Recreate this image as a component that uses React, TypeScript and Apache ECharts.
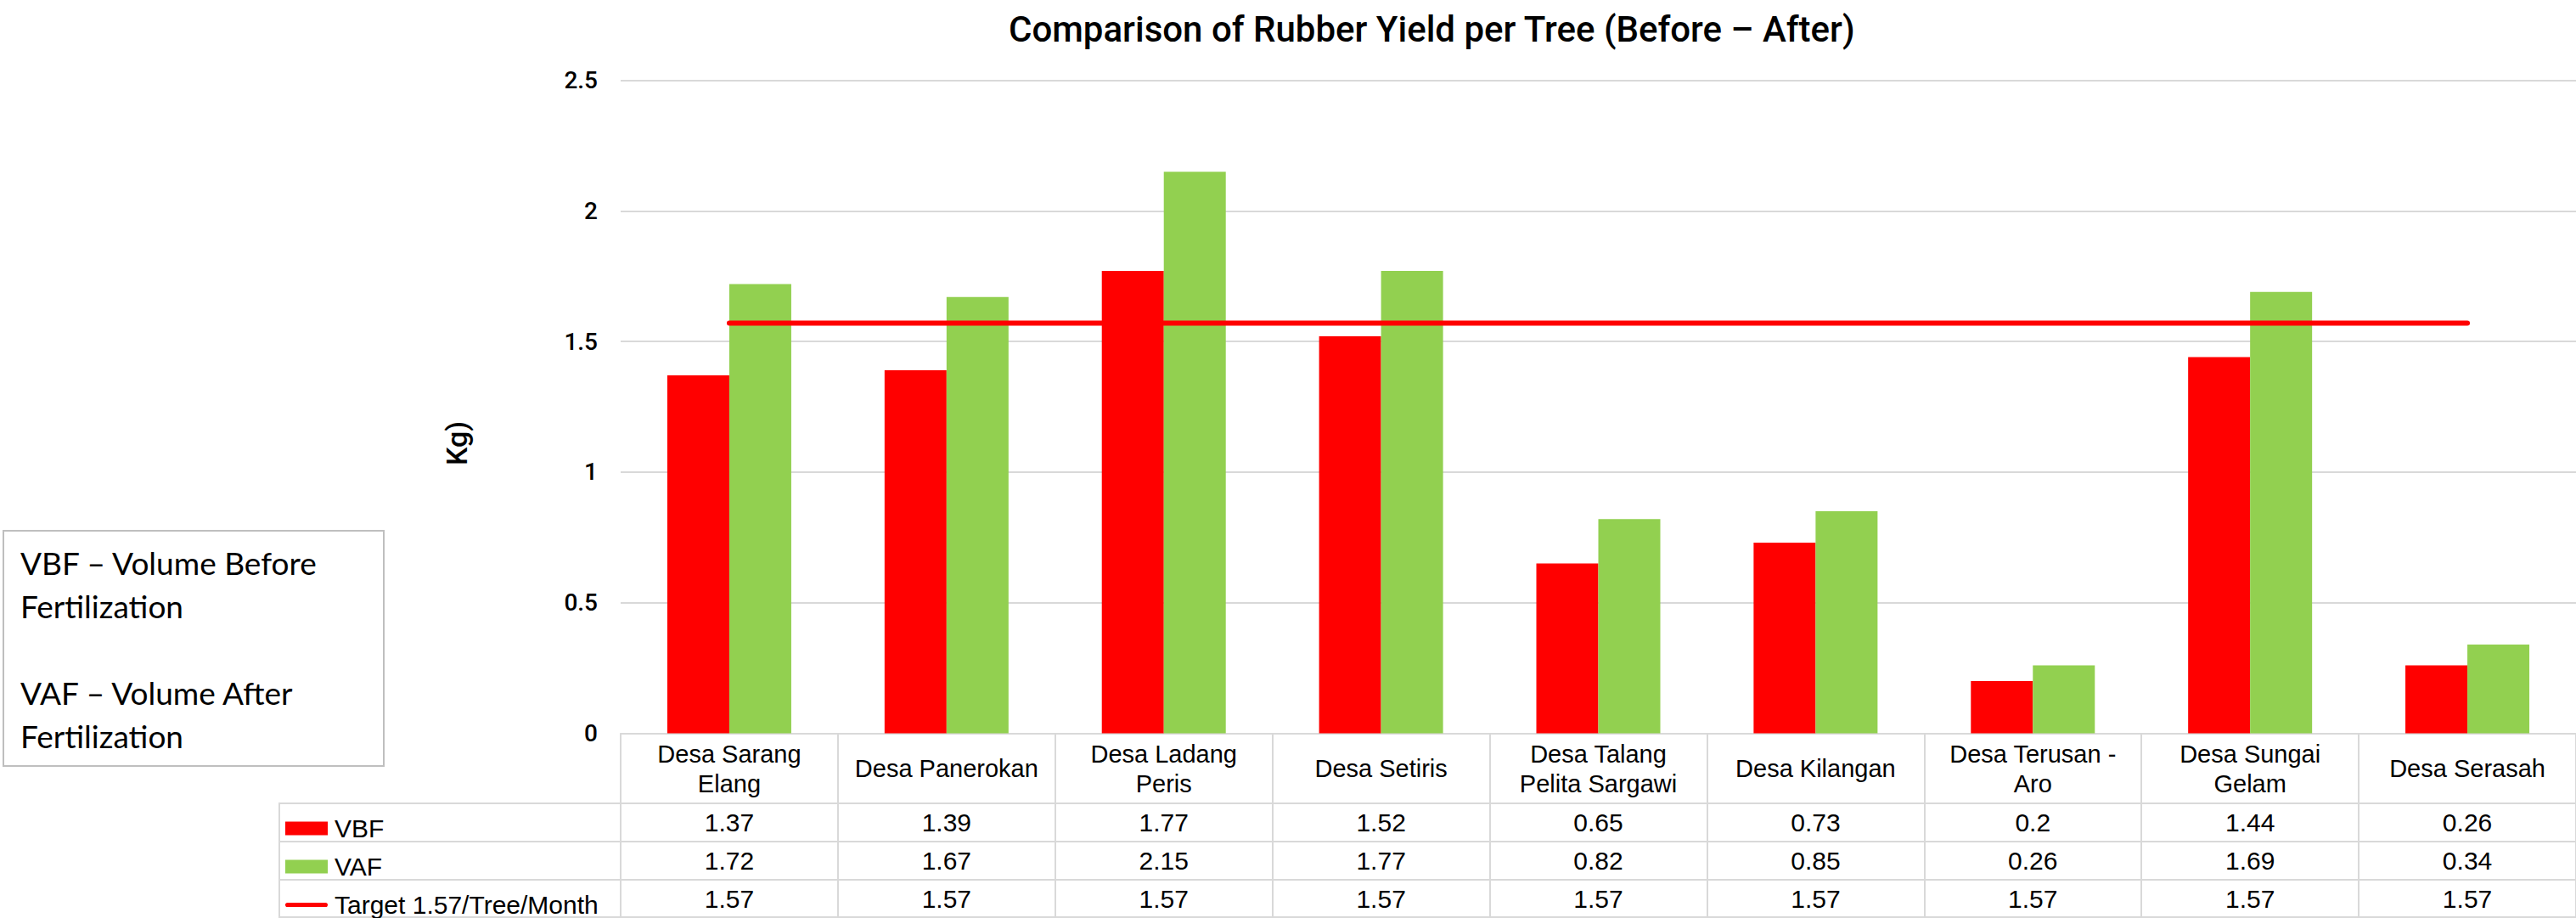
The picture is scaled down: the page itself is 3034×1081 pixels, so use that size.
import React, { useEffect, useRef } from "react";
import * as echarts from "echarts";

const categories = [
  "Desa Sarang\nElang",
  "Desa Panerokan",
  "Desa Ladang\nPeris",
  "Desa Setiris",
  "Desa Talang\nPelita Sargawi",
  "Desa Kilangan",
  "Desa Terusan -\nAro",
  "Desa Sungai\nGelam",
  "Desa Serasah",
];
const vbf = [1.37, 1.39, 1.77, 1.52, 0.65, 0.73, 0.2, 1.44, 0.26];
const vaf = [1.72, 1.67, 2.15, 1.77, 0.82, 0.85, 0.26, 1.69, 0.34];
const target = [1.57, 1.57, 1.57, 1.57, 1.57, 1.57, 1.57, 1.57, 1.57];
const seriesNames = ["VBF", "VAF", "Target 1.57/Tree/Month"];
const yMin = 0;
const yMax = 2.5;
const yStep = 0.5;
const titleText = "Comparison of Rubber Yield per Tree (Before – After)";
const yName = "Kg)";
const noteText = "VBF – Volume Before\nFertilization\n\nVAF – Volume After\nFertilization";

const RED = "#FF0000";
const GREEN = "#92D050";
const GRID = "#D9D9D9";
const TABLE_FONT = "Liberation Sans";
const TABLE_SIZE = 30;

export default function App() {
  const ref = useRef<HTMLDivElement>(null);
  useEffect(() => {
    if (!ref.current) return;
    const chart = echarts.init(ref.current, null, { renderer: "svg" });
    const gridLeft = 731;
    const gridTop = 94.5;
    const gridHeight = 769;
    const axisY = gridTop + gridHeight;
    const rowCenters = [968.5, 1013.5, 1058.5];
    const valueLabel = (arr: number[], margin: number) => ({
      type: "category",
      data: categories,
      position: "bottom",
      axisLine: { show: false },
      axisTick: { show: false },
      splitLine: { show: false },
      axisLabel: {
        interval: 0,
        margin,
        verticalAlign: "middle",
        fontSize: TABLE_SIZE,
        fontFamily: TABLE_FONT,
        color: "#000",
        formatter: (_v: string, i: number) => String(arr[i]),
      },
    });
    const legendBase = (name: string, cy: number, icon: string) => ({
      data: [{ name, icon }],
      left: 336,
      top: cy - 8,
      padding: 0,
      itemWidth: 50,
      itemHeight: 16,
      selectedMode: false,
      symbolKeepAspect: true,
      textStyle: { fontSize: TABLE_SIZE, fontFamily: TABLE_FONT, color: "#000", padding: [0, 0, 0, 3] },
    });
    const hLine = (x1: number, y: number, x2: number) => ({
      type: "line",
      shape: { x1, y1: y, x2, y2: y },
      style: { stroke: GRID, lineWidth: 2 },
      silent: true,
    });
    chart.setOption({
      animation: false,
      backgroundColor: "#fff",
      title: {
        text: titleText,
        left: 1183,
        top: 8,
        textStyle: { fontFamily: "Roboto", fontWeight: 500, fontSize: 42, color: "#000" },
      },
      grid: { left: gridLeft, top: gridTop, width: 2304, height: gridHeight, containLabel: false },
      legend: [
        legendBase(seriesNames[0], rowCenters[0], "rect"),
        legendBase(seriesNames[1], rowCenters[1], "rect"),
        legendBase(seriesNames[2], rowCenters[2], "path://M2,0 L98,0 A2,2 0 0 1 98,11 L2,11 A2,2 0 0 1 2,0 Z"),
      ],
      xAxis: [
        {
          type: "category",
          data: categories,
          position: "bottom",
          axisLine: { show: true, lineStyle: { color: GRID, width: 2 } },
          axisTick: { show: true, length: 218, lineStyle: { color: GRID, width: 2 } },
          axisLabel: {
            interval: 0,
            margin: 41.5,
            verticalAlign: "middle",
            fontSize: TABLE_SIZE - 1,
            lineHeight: 35,
            fontFamily: TABLE_FONT,
            color: "#000",
          },
        },
        valueLabel(vbf, rowCenters[0] - axisY),
        valueLabel(vaf, rowCenters[1] - axisY),
        valueLabel(target, rowCenters[2] - axisY),
      ],
      yAxis: {
        type: "value",
        min: yMin,
        max: yMax,
        interval: yStep,
        axisLine: { show: false },
        axisTick: { show: false },
        splitLine: { lineStyle: { color: GRID, width: 2 } },
        axisLabel: { fontSize: 28, fontWeight: 500, fontFamily: "Roboto", color: "#000", margin: 27 },
      },
      series: [
        {
          name: seriesNames[0],
          type: "bar",
          data: vbf,
          barWidth: 73,
          barGap: "0%",
          itemStyle: { color: RED },
        },
        {
          name: seriesNames[1],
          type: "bar",
          data: vaf,
          barWidth: 73,
          barGap: "0%",
          itemStyle: { color: GREEN },
        },
        {
          name: seriesNames[2],
          type: "line",
          data: target,
          symbol: "none",
          itemStyle: { color: RED },
          lineStyle: { color: RED, width: 6, cap: "round" },
          z: 5,
        },
      ],
      graphic: [
        {
          type: "rect",
          shape: { x: 4, y: 625, width: 448, height: 277 },
          style: { fill: "#fff", stroke: "#BFBFBF", lineWidth: 2 },
          silent: true,
        },
        {
          type: "text",
          x: 24,
          y: 637,
          style: {
            text: noteText,
            fontFamily: "Lato",
            fontSize: 37,
            lineHeight: 51,
            fill: "#000",
            verticalAlign: "top",
          },
          silent: true,
        },
        {
          type: "text",
          x: 538,
          y: 522,
          rotation: Math.PI / 2,
          style: {
            text: yName,
            fontFamily: "Roboto",
            fontWeight: 500,
            fontSize: 34,
            fill: "#000",
            align: "center",
            verticalAlign: "middle",
          },
          silent: true,
        },
        hLine(328, 946, 3034),
        hLine(328, 991, 3034),
        hLine(328, 1036, 3034),
        hLine(328, 1080, 3034),
        {
          type: "line",
          shape: { x1: 329, y1: 946, x2: 329, y2: 1081 },
          style: { stroke: GRID, lineWidth: 2 },
          silent: true,
        },
      ],
    });
    return () => chart.dispose();
  }, []);
  return (
    <div
      ref={ref}
      style={{ position: "absolute", left: 0, top: 0, width: 3034, height: 1081, background: "#fff" }}
    />
  );
}
